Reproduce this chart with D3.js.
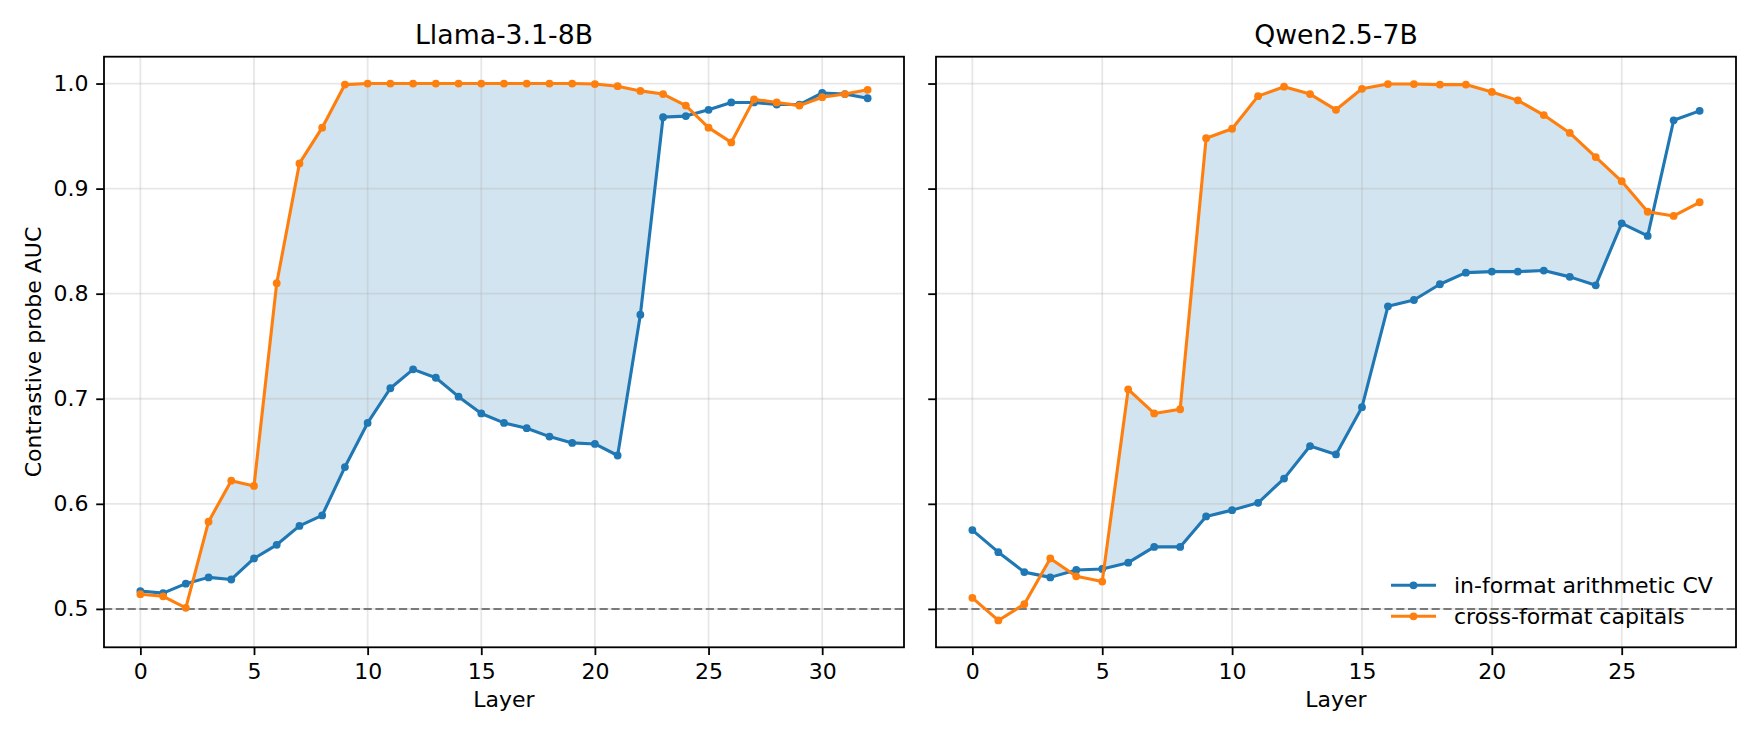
<!DOCTYPE html>
<html>
<head>
<meta charset="utf-8">
<script src="https://cdn.jsdelivr.net/npm/d3@7"></script>
<style>
  body { margin: 0; background: #fff; }
  text { font-family: "DejaVu Sans", sans-serif; fill: #000; }
</style>
</head>
<body>
<div id="vis"></div>
<script>
// data
const llamaLayers = d3.range(0, 33);
const llamaArith = [0.517, 0.515, 0.524, 0.530, 0.528, 0.548, 0.561, 0.579, 0.589,
  0.635, 0.677, 0.710, 0.728, 0.720, 0.702, 0.686, 0.677, 0.672, 0.664, 0.658, 0.657, 0.646,
  0.780, 0.968, 0.969, 0.975, 0.982, 0.982, 0.980, 0.980, 0.991, 0.990, 0.986];
const llamaCaps = [0.514, 0.512, 0.501, 0.583, 0.622, 0.617, 0.810, 0.924, 0.958, 0.999,
  1.0, 1.0, 1.0, 1.0, 1.0, 1.0, 1.0, 1.0, 1.0, 1.0,
  0.9995, 0.9975, 0.993, 0.990, 0.979, 0.958, 0.944, 0.985, 0.982, 0.979, 0.987, 0.990, 0.994];

const qwenLayers = d3.range(0, 29);
const qwenArith = [0.575, 0.554, 0.535, 0.530, 0.537, 0.538, 0.544, 0.559, 0.559,
  0.588, 0.594, 0.601, 0.624, 0.655, 0.647, 0.692,
  0.788, 0.794, 0.809, 0.820, 0.821, 0.821, 0.822, 0.816, 0.808,
  0.867, 0.855, 0.965, 0.974];
const qwenCaps = [0.5105, 0.489, 0.5045, 0.548, 0.531, 0.526, 0.709, 0.686, 0.690,
  0.948, 0.957, 0.988, 0.997, 0.990, 0.975, 0.995, 0.9995, 0.9995, 0.999, 0.999,
  0.992, 0.984, 0.970, 0.953, 0.930, 0.907, 0.878, 0.874, 0.887];

const panelTitles = ['Llama-3.1-8B', 'Qwen2.5-7B'];
const seriesNames = ['in-format arithmetic CV', 'cross-format capitals'];
const yTicks = [0.5, 0.6, 0.7, 0.8, 0.9, 1.0];
const llamaXTicks = [0, 5, 10, 15, 20, 25, 30];
const qwenXTicks = [0, 5, 10, 15, 20, 25];
const chanceLevel = 0.5;

const colors = ['#1f77b4', '#ff7f0e'];

// figure layout (pixels)
const W = 1760, H = 736;
const plotTop = 56.7, plotBottom = 647.3;
const panels = [
  {x0: 104, x1: 904, title: panelTitles[0], layers: llamaLayers, arith: llamaArith, caps: llamaCaps, xticks: llamaXTicks, ylabels: true},
  {x0: 936, x1: 1736, title: panelTitles[1], layers: qwenLayers, arith: qwenArith, caps: qwenCaps, xticks: qwenXTicks, ylabels: false}
];

const svg = d3.select('#vis')
  .append('svg')
  .attr('width', W)
  .attr('height', H)
  .style('background', '#fff');

// shared y scale, matplotlib-like 5% margins
const allY = llamaArith.concat(llamaCaps, qwenArith, qwenCaps);
const yMin = d3.min(allY), yMax = d3.max(allY);
const yPad = (yMax - yMin) * 0.05;
const yScale = d3.scaleLinear()
  .domain([yMin - yPad, yMax + yPad])
  .range([plotBottom, plotTop]);

const fontSize = 22;
const tickLen = 7.8;

panels.forEach((p, i) => {
  const n = d3.max(p.layers);
  const xScale = d3.scaleLinear()
    .domain([-0.05 * n, n * 1.05])
    .range([p.x0, p.x1]);

  const g = svg.append('g');

  // clip to the axes area
  g.append('clipPath').attr('id', 'axclip' + i)
    .append('rect')
    .attr('x', p.x0).attr('y', plotTop)
    .attr('width', p.x1 - p.x0).attr('height', plotBottom - plotTop);

  // region above the blue curve, so the fill only shows where orange > blue
  const aboveArea = d3.area()
    .x((d, k) => xScale(p.layers[k]))
    .y0((d, k) => yScale(p.arith[k]))
    .y1(plotTop - 5);
  g.append('clipPath').attr('id', 'fillclip' + i)
    .append('path')
    .attr('d', aboveArea(p.arith));

  const plot = g.append('g').attr('clip-path', `url(#axclip${i})`);

  // shaded gap between the two series
  const gapArea = d3.area()
    .x((d, k) => xScale(p.layers[k]))
    .y0((d, k) => yScale(p.arith[k]))
    .y1((d, k) => yScale(p.caps[k]));
  plot.append('path')
    .attr('d', gapArea(p.arith))
    .attr('clip-path', `url(#fillclip${i})`)
    .attr('fill', colors[0])
    .attr('fill-opacity', 0.2)
    .attr('stroke', 'none');

  // grid
  plot.selectAll('.vgrid')
    .data(p.xticks)
    .join('line')
    .attr('class', 'vgrid')
    .attr('x1', d => xScale(d)).attr('x2', d => xScale(d))
    .attr('y1', plotTop).attr('y2', plotBottom)
    .attr('stroke', '#b0b0b0').attr('stroke-opacity', 0.3).attr('stroke-width', 1.8);
  plot.selectAll('.hgrid')
    .data(yTicks)
    .join('line')
    .attr('class', 'hgrid')
    .attr('x1', p.x0).attr('x2', p.x1)
    .attr('y1', d => yScale(d)).attr('y2', d => yScale(d))
    .attr('stroke', '#b0b0b0').attr('stroke-opacity', 0.3).attr('stroke-width', 1.8);

  // chance line
  plot.append('line')
    .attr('x1', p.x0).attr('x2', p.x1)
    .attr('y1', yScale(chanceLevel)).attr('y2', yScale(chanceLevel))
    .attr('stroke', '#7a7a7a')
    .attr('stroke-width', 2)
    .attr('stroke-dasharray', '8.2,3.6');

  // the two series
  [p.arith, p.caps].forEach((vals, s) => {
    const line = d3.line()
      .x((d, k) => xScale(p.layers[k]))
      .y(d => yScale(d));
    plot.append('path')
      .attr('d', line(vals))
      .attr('fill', 'none')
      .attr('stroke', colors[s])
      .attr('stroke-width', 3.1)
      .attr('stroke-linejoin', 'round');
    plot.selectAll('.pt' + s)
      .data(vals)
      .join('circle')
      .attr('class', 'pt' + s)
      .attr('cx', (d, k) => xScale(p.layers[k]))
      .attr('cy', d => yScale(d))
      .attr('r', 3.9)
      .attr('fill', colors[s]);
  });

  // axes
  const xAxis = d3.axisBottom(xScale)
    .tickValues(p.xticks)
    .tickSize(tickLen).tickSizeOuter(0).tickPadding(7.8)
    .tickFormat(d3.format('d'));
  const xg = g.append('g')
    .attr('transform', `translate(0,${plotBottom})`)
    .call(xAxis);

  const yAxis = d3.axisLeft(yScale)
    .tickValues(yTicks)
    .tickSize(tickLen).tickSizeOuter(0).tickPadding(7.8)
    .tickFormat(p.ylabels ? d3.format('.1f') : '');
  const yg = g.append('g')
    .attr('transform', `translate(${p.x0},0)`)
    .call(yAxis);

  [xg, yg].forEach(a => {
    a.select('.domain').remove();
    a.selectAll('.tick line').attr('stroke', '#000').attr('stroke-width', 1.8);
    a.selectAll('.tick text')
      .style('font-family', '"DejaVu Sans", sans-serif')
      .style('font-size', fontSize + 'px')
      .attr('fill', '#000');
  });

  // frame
  g.append('rect')
    .attr('x', p.x0).attr('y', plotTop)
    .attr('width', p.x1 - p.x0).attr('height', plotBottom - plotTop)
    .attr('fill', 'none')
    .attr('stroke', '#000')
    .attr('stroke-width', 1.8);

  // title and x label
  g.append('text')
    .attr('x', (p.x0 + p.x1) / 2)
    .attr('y', 43.5)
    .style('text-anchor', 'middle')
    .style('font-size', '26.7px')
    .text(p.title);
  g.append('text')
    .attr('x', (p.x0 + p.x1) / 2)
    .attr('y', 706.5)
    .style('text-anchor', 'middle')
    .style('font-size', fontSize + 'px')
    .text('Layer');

  if (p.ylabels) {
    g.append('text')
      .attr('transform', `translate(41,${(plotTop + plotBottom) / 2}) rotate(-90)`)
      .style('text-anchor', 'middle')
      .style('font-size', fontSize + 'px')
      .text('Contrastive probe AUC');
  }

  // legend on the right panel, no frame
  if (i === 1) {
    const lg = g.append('g');
    seriesNames.forEach((name, s) => {
      const ly = 585.3 + s * 31;
      lg.append('line')
        .attr('x1', 1391).attr('x2', 1436)
        .attr('y1', ly).attr('y2', ly)
        .attr('stroke', colors[s]).attr('stroke-width', 3.1);
      lg.append('circle')
        .attr('cx', 1413.5).attr('cy', ly).attr('r', 3.9)
        .attr('fill', colors[s]);
      lg.append('text')
        .attr('x', 1454)
        .attr('y', ly)
        .attr('dy', '0.35em')
        .style('font-size', fontSize + 'px')
        .text(name);
    });
  }
});
</script>
</body>
</html>
